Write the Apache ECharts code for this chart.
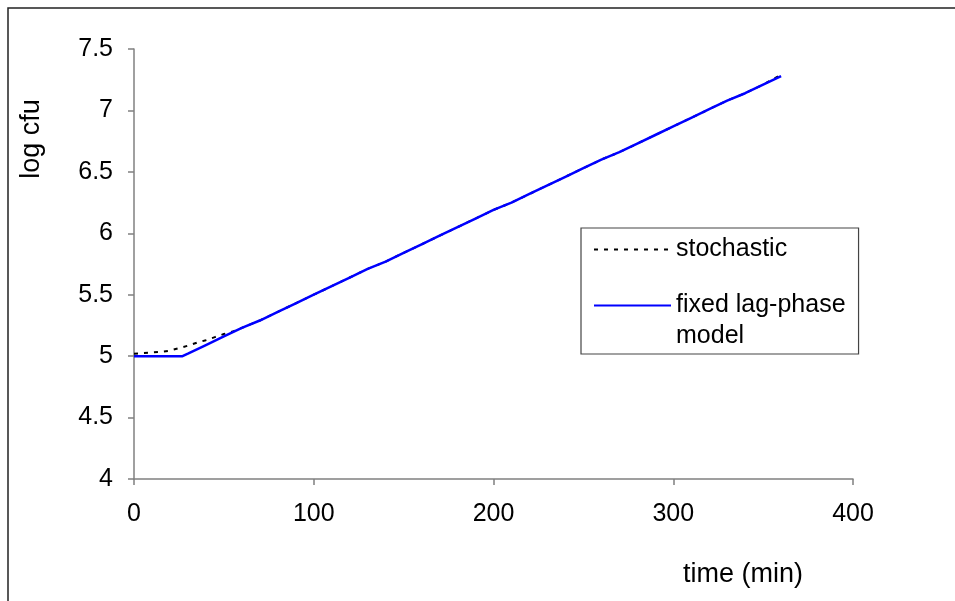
<!DOCTYPE html>
<html>
<head>
<meta charset="utf-8">
<script src="https://cdn.jsdelivr.net/npm/echarts@6/dist/echarts.min.js"></script>
<style>
  html, body { margin: 0; padding: 0; background: #fff; }
  #growth-chart { width: 955px; height: 601px; }
</style>
</head>
<body>
<div id="growth-chart"></div>
<script>
// time (min) and log cfu
const stochTime = [0, 5, 10, 15, 20, 25, 30, 35, 40, 45, 50, 55, 60, 70, 80, 90, 100, 110, 120, 130, 140, 150, 160, 170, 180, 190, 200, 210, 220, 230, 240, 250, 260, 270, 280, 290, 300, 310, 320, 330, 340, 350, 360]
const stochLog = [5.02, 5.025, 5.03, 5.035, 5.045, 5.065, 5.085, 5.11, 5.13, 5.155, 5.18, 5.2, 5.23, 5.29, 5.36, 5.43, 5.5, 5.57, 5.64, 5.71, 5.77, 5.84, 5.91, 5.98, 6.05, 6.12, 6.19, 6.25, 6.32, 6.39, 6.46, 6.53, 6.6, 6.66, 6.73, 6.8, 6.87, 6.94, 7.01, 7.08, 7.14, 7.21, 7.29]
const fixedTime = [0, 10, 20, 27, 30, 40, 50, 60, 70, 80, 90, 100, 110, 120, 130, 140, 150, 160, 170, 180, 190, 200, 210, 220, 230, 240, 250, 260, 270, 280, 290, 300, 310, 320, 330, 340, 350, 360]
const fixedLog = [5, 5, 5, 5, 5.02, 5.09, 5.16, 5.23, 5.29, 5.36, 5.43, 5.5, 5.57, 5.64, 5.71, 5.77, 5.84, 5.91, 5.98, 6.05, 6.12, 6.19, 6.25, 6.32, 6.39, 6.46, 6.53, 6.6, 6.66, 6.73, 6.8, 6.87, 6.94, 7.01, 7.08, 7.14, 7.21, 7.28]

const font = 'Arial, "Liberation Sans", sans-serif'
const axisGrey = '#808080'

const myChart = echarts.init(document.getElementById('growth-chart'))
myChart.setOption({
  animation: false,
  backgroundColor: '#fff',
  textStyle: { fontFamily: font, color: '#000' },
  graphic: [{
    type: 'rect',
    shape: { x: 8, y: 8, width: 1000, height: 700 },
    style: { fill: 'none', stroke: '#222', lineWidth: 1.5 },
    z: -1
  }],
  grid: {
    left: 134,
    right: 102,
    top: 49,
    bottom: 122,
    outerBoundsMode: 'none'
  },
  legend: {
    orient: 'vertical',
    left: 581,
    top: 228,
    padding: [6, 13, 2, 12],
    itemWidth: 77,
    itemHeight: 14,
    itemGap: -6,
    borderColor: '#444',
    borderWidth: 1.2,
    borderRadius: 0,
    itemStyle: { opacity: 0 },
    textStyle: { fontFamily: font, fontSize: 25, color: '#000', lineHeight: 31 },
    data: ['stochastic', 'fixed lag-phase model'],
    // blank first line keeps the icon level with "fixed lag-phase"
    formatter: (name) => name === 'fixed lag-phase model' ? ' \nfixed lag-phase\nmodel' : name
  },
  xAxis: {
    type: 'value',
    min: 0,
    max: 400,
    interval: 100,
    name: 'time (min)',
    nameLocation: 'end',
    nameGap: -110,
    nameTextStyle: { fontFamily: font, fontSize: 27, color: '#000', align: 'center', verticalAlign: 'top', padding: [82, 0, 0, 0] },
    axisLine: { show: true, lineStyle: { color: axisGrey, width: 1.5 } },
    axisTick: { show: true, inside: false, length: 6, lineStyle: { color: axisGrey, width: 1.5 } },
    axisLabel: { fontFamily: font, fontSize: 25, color: '#000', margin: 23 },
    splitLine: { show: false }
  },
  yAxis: {
    type: 'value',
    min: 4,
    max: 7.5,
    interval: 0.5,
    name: 'log cfu',
    nameLocation: 'middle',
    nameRotate: 90,
    nameGap: 89,
    nameTextStyle: { fontFamily: font, fontSize: 27, color: '#000', padding: [0, 0, 0, 250] },
    axisLine: { show: true, lineStyle: { color: axisGrey, width: 1.5 } },
    axisTick: { show: true, inside: false, length: 6, lineStyle: { color: axisGrey, width: 1.5 } },
    axisLabel: { fontFamily: font, fontSize: 25, color: '#000', margin: 21 },
    splitLine: { show: false }
  },
  series: [{
    name: 'stochastic',
    type: 'line',
    symbol: 'none',
    data: stochTime.map((t, i) => [t, stochLog[i]]),
    lineStyle: { color: '#000', width: 2, type: [4, 6] },
    itemStyle: { color: '#000' },
    z: 2
  }, {
    name: 'fixed lag-phase model',
    type: 'line',
    symbol: 'none',
    data: fixedTime.map((t, i) => [t, fixedLog[i]]),
    lineStyle: { color: '#0000ff', width: 2.5 },
    itemStyle: { color: '#0000ff' },
    z: 3
  }]
})
</script>
</body>
</html>
